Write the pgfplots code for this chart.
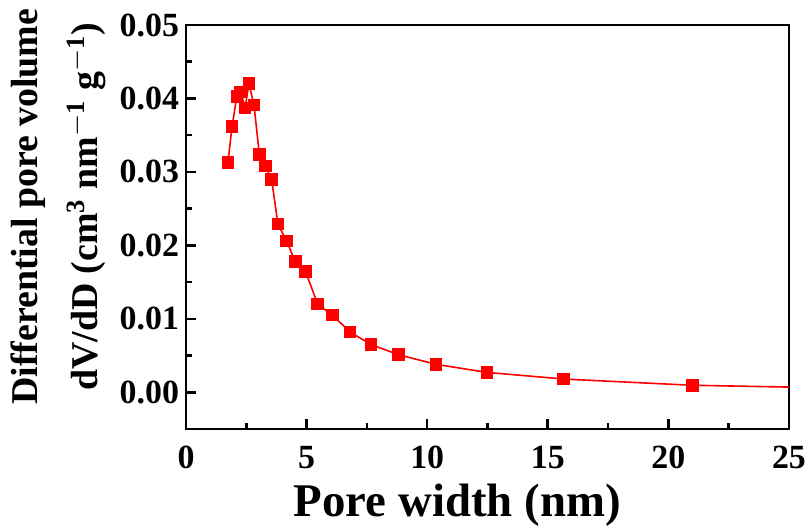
\documentclass[border=0pt]{standalone}
\usepackage{fontspec}
\setmainfont{Liberation Serif}
\usepackage{pgfplots}
\pgfplotsset{compat=1.18}
\usetikzlibrary{calc}
\begin{document}
\begin{tikzpicture}
\begin{axis}[
  name=ax,
  scale only axis,
  width=301.5bp, height=202bp,
  xmin=0, xmax=25, ymin=-0.005, ymax=0.05,
  xtick={0,5,10,15,20,25},
  ytick={0,0.01,0.02,0.03,0.04,0.05},
  minor x tick num=1, minor y tick num=1,
  xtick pos=left, ytick pos=left,
  tick align=inside,
  major tick length=5bp, minor tick length=3bp,
  axis line style={line width=1.3bp},
  every tick/.style={line width=1.3bp, black},
  /pgf/number format/assume math mode=true,
  ticklabel style={font=\bfseries\fontsize{17}{20}\selectfont},
  scaled y ticks=false,
  yticklabel style={/pgf/number format/.cd, fixed, fixed zerofill, precision=2},
  xticklabel style={yshift=-5bp},
  xlabel={Pore width (nm)},
  xlabel style={font=\bfseries\fontsize{23.5}{26}\selectfont, at={(axis description cs:0.45,0)}, anchor=base, yshift=-44bp},
  ylabel={Differential pore volume\\dV/dD (cm$^{\mathbf{3}}$ nm$^{\mathbf{-1}}$ g$^{\mathbf{-1}}$)},
  ylabel style={font=\bfseries\fontsize{19}{30}\selectfont, align=center, at={(axis description cs:-0.212,0.55)}, anchor=center, rotate=0},
]
\addplot[red, line width=0.8bp, mark=square*, mark size=2.75bp, mark options={solid, fill=red, draw=red}] coordinates {
(1.74,0.0313)
(1.91,0.0362)
(2.11,0.0403)
(2.27,0.0409)
(2.45,0.0387)
(2.61,0.0420)
(2.82,0.0391)
(3.04,0.0324)
(3.29,0.0308)
(3.55,0.0290)
(3.81,0.0229)
(4.17,0.0206)
(4.53,0.0178)
(4.96,0.0164)
(5.46,0.0120)
(6.07,0.0105)
(6.80,0.0082)
(7.67,0.0065)
(8.82,0.0051)
(10.37,0.0038)
(12.48,0.0027)
(15.66,0.0018)
(20.99,0.00095)
(30.0,0.0004)
};
\end{axis}
\pgfresetboundingbox
\path[use as bounding box] ($(ax.south west)+(-93bp,-50bp)$) rectangle ($(ax.north east)+(11bp,12.5bp)$);
\end{tikzpicture}
\end{document}
